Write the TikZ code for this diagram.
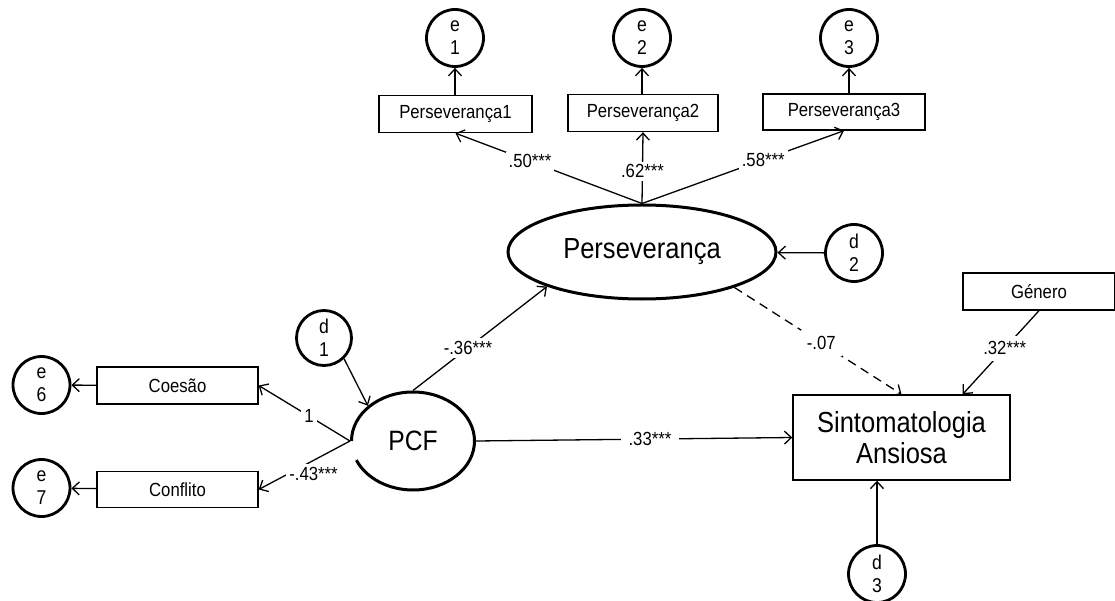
\documentclass[tikz,border=0pt]{standalone}
\usepackage{fontspec}
\setmainfont{Liberation Sans}[FakeStretch=0.88]
\usetikzlibrary{arrows.meta,shapes.geometric,calc}
\begin{document}
\begin{tikzpicture}[x=1pt,y=-1pt,
  sm/.style={font=\fontsize{19}{22}\selectfont},
  err/.style={circle,draw,line width=2.8pt,minimum size=57pt,inner sep=0pt,align=center,font=\fontsize{20}{23}\selectfont},
  obs/.style={rectangle,draw,line width=1.4pt,inner sep=0pt,sm},
  lat/.style={ellipse,draw,line width=3pt,inner sep=0pt,font=\fontsize{29}{31}\selectfont},
  conn/.style={line width=1.3pt,-{Straight Barb[length=7pt,width=13pt,line width=1.3pt]}},
  lbl/.style={fill=white,inner sep=3pt,sm}
]
\useasboundingbox (0,0) rectangle (1115,601);

% error terms
\node[err] (e1) at (455,38) {e\\1};
\node[err] (e2) at (642,38) {e\\2};
\node[err] (e3) at (849,38) {e\\3};
\node[err] (e6) at (41.5,385) {e\\6};
\node[err] (e7) at (41.5,488) {e\\7};
\node[err,minimum size=55pt] (d1) at (324,338) {d\\1};
\node[err] (d2) at (854,253) {d\\2};
\node[err] (d3) at (877,574) {d\\3};

% observed
\node[obs,minimum width=153pt,minimum height=37pt] (p1) at (455.5,114) {Perseverança1};
\node[obs,minimum width=150pt,minimum height=37pt] (p2) at (643,113) {Perseverança2};
\node[obs,minimum width=162pt,minimum height=36pt] (p3) at (844,112) {Perseverança3};
\node[obs,minimum width=161pt,minimum height=37pt] (coesao) at (177.5,385.5) {Coesão};
\node[obs,minimum width=161pt,minimum height=36pt] (confl) at (177.5,489.5) {Conflito};
\node[obs,minimum width=217pt,minimum height=85pt,align=center,font=\fontsize{29}{31}\selectfont] (sint) at (901.5,437.5) {Sintomatologia\\Ansiosa};
\node[obs,minimum width=152pt,minimum height=37pt] (gen) at (1039,291.5) {Género};

% latent
\node[lat,minimum width=268pt,minimum height=94pt] (pers) at (642,252) {Perseverança};
\node[lat,draw=none,minimum width=123pt,minimum height=98pt,font=\fontsize{28}{30}\selectfont] (pcf) at (413,441) {PCF};
\draw[line width=3pt] ($(pcf.center)+(-61.5,0)$) arc[start angle=180,end angle=517,x radius=61.5,y radius=49];

% connectors
\draw[conn] (e1.south |- p1.north) -- (e1.south);
\draw[conn] (e2.south |- p2.north) -- (e2.south);
\draw[conn] (e3.south |- p3.north) -- (e3.south);
\draw[conn] (pers.north) -- (p1.south) node[lbl,pos=0.6]{.50***};
\draw[conn] (pers.north) -- (p2.south) node[lbl,pos=0.45]{.62***};
\draw[conn] (pers.north) -- (p3.south) node[lbl,pos=0.6]{.58***};
\draw[conn] (d2) -- (pers);
\draw[conn,dash pattern=on 9pt off 6pt] (pers.-21) -- (sint.north) node[lbl,pos=0.52,inner sep=6pt]{-.07};
\draw[conn] (gen.south) -- ($(sint.north west)!0.78!(sint.north east)$) node[lbl,pos=0.45,inner sep=6pt]{.32***};
\draw[conn] (pcf.north) -- (pers.200) node[lbl,pos=0.41]{-.36***};
\draw[conn] (pcf.east) -- (sint.west) node[lbl,pos=0.55,inner xsep=8pt]{.33***};
\draw[conn] (d1.-46) -- (pcf.142);
\draw[conn] (pcf.west) -- (coesao.east) node[lbl,pos=0.45]{1};
\draw[conn] (pcf.west) -- (confl.east) node[lbl,pos=0.4,below=3pt]{-.43***};
\draw[conn] (coesao) -- (e6);
\draw[conn] (confl) -- (e7);
\draw[conn] (d3.north) -- (d3.north |- sint.south);
\end{tikzpicture}
\end{document}
